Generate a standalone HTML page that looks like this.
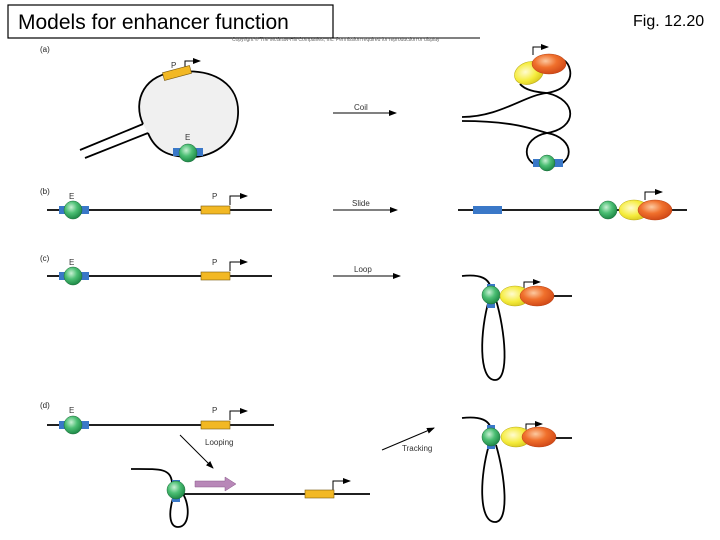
<!DOCTYPE html>
<html><head><style>
body{margin:0;background:#fff;}
svg{display:block;font-family:"Liberation Sans",sans-serif;}
</style></head><body>
<svg width="720" height="540" viewBox="0 0 720 540" xmlns="http://www.w3.org/2000/svg">
<defs>
<radialGradient id="g" cx="40%" cy="35%" r="65%"><stop offset="0" stop-color="#c9f0d4"/><stop offset="0.5" stop-color="#4cbf74"/><stop offset="1" stop-color="#1f8a48"/></radialGradient>
<radialGradient id="y" cx="40%" cy="40%" r="65%"><stop offset="0" stop-color="#fffbd0"/><stop offset="0.6" stop-color="#f5ec3c"/><stop offset="1" stop-color="#d8c820"/></radialGradient>
<radialGradient id="o" cx="40%" cy="35%" r="65%"><stop offset="0" stop-color="#fcc9a0"/><stop offset="0.5" stop-color="#f0702c"/><stop offset="1" stop-color="#d24a18"/></radialGradient>
<marker id="ah" markerWidth="8" markerHeight="6" refX="7" refY="3" orient="auto"><path d="M0,0L8,3L0,6z" fill="#000"/></marker>
</defs>
<rect x="8" y="5" width="325" height="33" fill="#fff" stroke="#000" stroke-width="1.2"/>
<text x="18" y="29" font-size="21">Models for enhancer function</text>
<text x="633" y="26" font-size="16">Fig. 12.20</text>
<line x1="8" y1="38" x2="480" y2="38" stroke="#000" stroke-width="1"/>
<text x="232" y="41" font-size="5" fill="#666">Copyright © The McGraw-Hill Companies, Inc. Permission required for reproduction or display</text>
<g font-size="8" fill="#222">
<text x="40" y="52">(a)</text><text x="40" y="194">(b)</text><text x="40" y="261">(c)</text><text x="40" y="408">(d)</text>
</g>
<g fill="none" stroke="#000" stroke-width="1.8">
<path d="M143,124 C132,100 145,73 178,72 C215,68 240,85 238,115 C236,145 210,158 189,157 C168,157 155,150 148,133" fill="#f0f0f0"/>
<path d="M80,150 L143,124 M85,158 L148,133"/>
<!-- coil -->
<path d="M462,117 C500,117 525,95 547,93 C565,90 572,80 570,70 C568,60 560,57 555,59"/>
<path d="M520,84 C525,90 535,92 547,93 C578,100 578,128 547,133 C520,138 520,167 547,167 C576,167 576,138 547,133 C530,128 510,121 462,121"/>
<!-- rows -->
<line x1="47" y1="210" x2="272" y2="210"/>
<line x1="458" y1="210" x2="687" y2="210"/>
<line x1="47" y1="276" x2="272" y2="276"/>
<line x1="47" y1="425" x2="274" y2="425"/>
<path d="M462,276 C480,274 490,278 491,290"/>
<line x1="540" y1="296" x2="572" y2="296"/>
<path d="M489,300 C480,330 478,380 495,380 C510,380 505,330 496,300"/>
<path d="M462,418 C480,416 490,420 491,430"/>
<line x1="540" y1="438" x2="572" y2="438"/>
<path d="M489,445 C480,475 478,522 495,522 C510,522 505,475 496,445"/>
<path d="M131,469 C160,469 170,468 172,482"/>
<line x1="183" y1="494" x2="370" y2="494"/>
<path d="M173,498 C168,515 170,527 178,527 C190,527 190,505 183,494"/>
</g>
<g stroke="#000" stroke-width="1" marker-end="url(#ah)">
<line x1="333" y1="113" x2="396" y2="113"/>
<line x1="333" y1="210" x2="397" y2="210"/>
<line x1="333" y1="276" x2="400" y2="276"/>
<line x1="180" y1="435" x2="213" y2="468"/>
<line x1="382" y1="450" x2="434" y2="428"/>
</g>
<g font-size="8" fill="#333">
<text x="354" y="110">Coil</text><text x="352" y="206">Slide</text><text x="354" y="272">Loop</text>
<text x="205" y="445">Looping</text><text x="402" y="451">Tracking</text>
<text x="171" y="68">P</text><text x="185" y="140">E</text>
<text x="69" y="199">E</text><text x="212" y="199">P</text>
<text x="69" y="265">E</text><text x="212" y="265">P</text>
<text x="69" y="413">E</text><text x="212" y="413">P</text>
</g>
<g fill="none" stroke="#000" stroke-width="1">
<path d="M185,70 V61 H200" marker-end="url(#ah)"/>
<path d="M230,205 V196 H247" marker-end="url(#ah)"/>
<path d="M230,271 V262 H247" marker-end="url(#ah)"/>
<path d="M230,420 V411 H247" marker-end="url(#ah)"/>
<path d="M333,490 V481 H350" marker-end="url(#ah)"/>
<path d="M533,55 V47 H548" marker-end="url(#ah)"/>
<path d="M645,200 V192 H662" marker-end="url(#ah)"/>
<path d="M524,290 V282 H540" marker-end="url(#ah)"/>
<path d="M526,432 V424 H542" marker-end="url(#ah)"/>
</g>
<g fill="#f2b824" stroke="#7a5a10" stroke-width="0.6">
<rect x="163" y="69" width="28" height="8" transform="rotate(-15 177 73)"/>
<rect x="201" y="206" width="29" height="8"/>
<rect x="201" y="272" width="29" height="8"/>
<rect x="201" y="421" width="29" height="8"/>
<rect x="305" y="490" width="29" height="8"/>
</g>
<g fill="#3a78c8">
<rect x="173" y="148" width="30" height="8"/>
<rect x="59" y="206" width="30" height="8"/>
<rect x="59" y="272" width="30" height="8"/>
<rect x="59" y="421" width="30" height="8"/>
<rect x="533" y="159" width="30" height="8"/>
<rect x="473" y="206" width="29" height="8"/>
<rect x="487" y="284" width="8" height="24"/>
<rect x="487" y="425" width="8" height="24"/>
<rect x="172" y="480" width="8" height="22"/>
</g>
<g fill="url(#g)" stroke="#1a6a38" stroke-width="0.5">
<circle cx="188" cy="153" r="9"/>
<circle cx="73" cy="210" r="9"/>
<circle cx="73" cy="276" r="9"/>
<circle cx="73" cy="425" r="9"/>
<circle cx="547" cy="163" r="8"/>
<circle cx="608" cy="210" r="9"/>
<circle cx="491" cy="295" r="9"/>
<circle cx="491" cy="437" r="9"/>
<circle cx="176" cy="490" r="9"/>
</g>
<g fill="url(#y)" stroke="#b8a818" stroke-width="0.5">
<ellipse cx="529" cy="73" rx="15" ry="11" transform="rotate(-20 529 73)"/>
<ellipse cx="634" cy="210" rx="15" ry="10"/>
<ellipse cx="515" cy="296" rx="15" ry="10"/>
<ellipse cx="516" cy="437" rx="15" ry="10"/>
</g>
<g fill="url(#o)" stroke="#b84010" stroke-width="0.5">
<ellipse cx="549" cy="64" rx="17" ry="10"/>
<ellipse cx="655" cy="210" rx="17" ry="10"/>
<ellipse cx="537" cy="296" rx="17" ry="10"/>
<ellipse cx="539" cy="437" rx="17" ry="10"/>
</g>
<path d="M195,481 H225 V477 L236,484 L225,491 V487 H195 Z" fill="#b888b8" stroke="#8a5a8a" stroke-width="0.5"/>
</svg>
</body></html>
